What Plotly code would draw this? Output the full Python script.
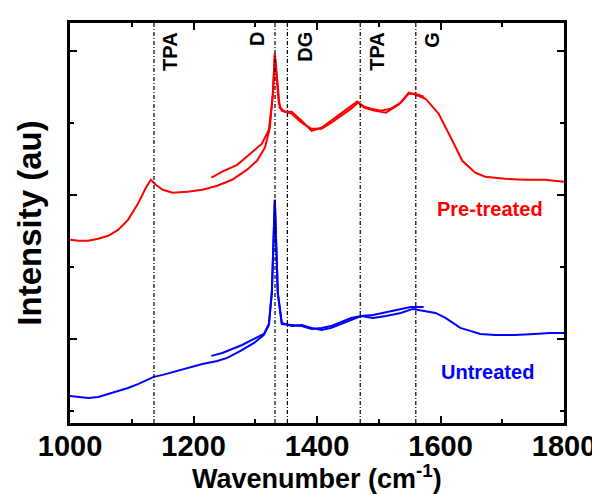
import plotly.graph_objects as go

# ---------------- data (wavenumber in cm^-1, intensity in arbitrary units) ----------------
pre_a_wn = [1000, 1013.7, 1029.7, 1045.8, 1061.8, 1077.9, 1093.9, 1110.0, 1122.9, 1130.9, 1138.9,
            1150.2, 1166.2, 1190.3, 1214.4, 1238.5, 1262.6, 1286.7, 1302.8, 1315.6, 1323.7, 1328.5,
            1331.7, 1334.9, 1338.1, 1343.0, 1359.0, 1375.1, 1391.2, 1407.2, 1423.3, 1439.3, 1455.4,
            1466.6, 1476.3, 1487.5, 1503.6, 1519.6, 1535.7, 1548.6, 1559.8, 1572.7]
pre_a_int = [1.688, 1.681, 1.681, 1.695, 1.716, 1.757, 1.827, 1.939, 2.050, 2.106, 2.071,
             2.036, 2.015, 2.022, 2.036, 2.064, 2.106, 2.176, 2.238, 2.329, 2.468, 2.712,
             2.970, 2.817, 2.643, 2.587, 2.566, 2.503, 2.461, 2.461, 2.503, 2.552, 2.601,
             2.643, 2.615, 2.601, 2.587, 2.601, 2.643, 2.705, 2.705, 2.684]

pre_b_wn = [1228.9, 1246.6, 1270.7, 1294.8, 1310.8, 1322.1, 1328.5, 1331.7, 1334.9, 1339.7,
            1347.8, 1359.0, 1375.1, 1391.2, 1407.2, 1423.3, 1439.3, 1455.4, 1465.0, 1476.3,
            1492.3, 1511.6, 1532.5, 1548.6, 1559.8, 1575.9, 1596.8, 1619.3, 1635.3, 1656.2,
            1672.3, 1704.4, 1736.5, 1768.7, 1800]
pre_b_int = [2.120, 2.162, 2.210, 2.301, 2.357, 2.455, 2.691, 2.984, 2.831, 2.608,
             2.580, 2.580, 2.517, 2.447, 2.468, 2.517, 2.566, 2.615, 2.650, 2.608,
             2.587, 2.573, 2.629, 2.712, 2.698, 2.670, 2.566, 2.378, 2.238, 2.155,
             2.127, 2.113, 2.106, 2.106, 2.092]

un_a_wn = [1000, 1013.7, 1029.7, 1045.8, 1061.8, 1077.9, 1093.9, 1110.0, 1126.1, 1135.7, 1150.2,
           1166.2, 1190.3, 1214.4, 1238.5, 1254.6, 1275.5, 1298.0, 1314.0, 1322.1, 1326.9, 1331.7,
           1336.5, 1343.0, 1359.0, 1375.1, 1391.2, 1407.2, 1423.3, 1439.3, 1455.4, 1471.4,
           1490.7, 1511.6, 1535.7, 1551.8, 1564.6, 1572.7]
un_a_int = [0.601, 0.594, 0.587, 0.594, 0.615, 0.636, 0.657, 0.684, 0.713, 0.734, 0.748,
            0.768, 0.796, 0.824, 0.845, 0.866, 0.914, 0.970, 1.026, 1.095, 1.332, 1.966,
            1.318, 1.109, 1.088, 1.095, 1.075, 1.061, 1.075, 1.102, 1.130, 1.158,
            1.165, 1.186, 1.207, 1.221, 1.221, 1.221]

un_b_wn = [1228.9, 1246.6, 1262.6, 1278.7, 1298.0, 1314.0, 1322.1, 1326.9, 1331.7, 1336.5,
           1343.0, 1359.0, 1375.1, 1391.2, 1407.2, 1423.3, 1439.3, 1455.4, 1471.4, 1490.7,
           1511.6, 1535.7, 1555.0, 1564.6, 1575.9, 1591.9, 1608.0, 1619.3, 1632.1, 1648.2,
           1664.3, 1688.4, 1720.5, 1752.6, 1776.7, 1800]
un_b_int = [0.880, 0.900, 0.928, 0.956, 0.998, 1.033, 1.102, 1.318, 1.966, 1.318,
            1.102, 1.095, 1.088, 1.068, 1.075, 1.088, 1.116, 1.144, 1.158, 1.144,
            1.158, 1.179, 1.207, 1.200, 1.193, 1.179, 1.144, 1.109, 1.075, 1.054,
            1.033, 1.026, 1.026, 1.033, 1.040, 1.040]

band_positions = [1136, 1332, 1352, 1470, 1560]
band_labels = ["TPA", "D", "DG", "TPA", "G"]
band_label_x = [1161, 1303, 1380, 1496, 1586]

x_ticks = [1000, 1200, 1400, 1600, 1800]
y_ticks = [1, 2, 3]

FONT = "Arial, Liberation Sans, sans-serif"
RED = "#ff0000"
BLUE = "#0000ff"

fig = go.Figure()
for wn, inten, col in [(pre_a_wn, pre_a_int, RED), (pre_b_wn, pre_b_int, RED),
                       (un_a_wn, un_a_int, BLUE), (un_b_wn, un_b_int, BLUE)]:
    fig.add_trace(go.Scatter(x=wn, y=inten, mode="lines",
                             line=dict(color=col, width=2), showlegend=False,
                             hoverinfo="skip"))

for xb in band_positions:
    fig.add_shape(type="line", x0=xb, x1=xb, y0=0, y1=1, xref="x", yref="paper",
                  line=dict(color="black", width=1.2, dash="4px,2px,1px,2px"))

for xl, lab in zip(band_label_x, band_labels):
    fig.add_annotation(x=xl, y=1.0, xref="x", yref="paper", yshift=-7,
                       text="<b>%s</b>" % lab, showarrow=False, textangle=-90,
                       xanchor="center", yanchor="top",
                       font=dict(family=FONT, size=20, color="black"))

fig.add_annotation(x=1680, y=1.90, xref="x", yref="y", text="<b>Pre-treated</b>",
                   showarrow=False, font=dict(family=FONT, size=20, color=RED))
fig.add_annotation(x=1676, y=0.77, xref="x", yref="y", text="<b>Untreated</b>",
                   showarrow=False, font=dict(family=FONT, size=20, color=BLUE))

# x-axis title placed as paper annotation so it sits fully inside the picture
fig.add_annotation(x=0.5, y=0, xref="paper", yref="paper", yanchor="bottom", yshift=-73,
                   text="<b>Wavenumber (cm<sup>-1</sup>)</b>", showarrow=False,
                   font=dict(family=FONT, size=27, color="black"))

fig.update_layout(
    width=600, height=494,
    margin=dict(l=62, r=41, t=15, b=79),
    paper_bgcolor="white", plot_bgcolor="white",
    font=dict(family=FONT, color="black"),
    xaxis=dict(range=[1000, 1800], tickvals=x_ticks,
               ticktext=["<b>%d</b>" % v for v in x_ticks],
               ticks="inside", ticklen=7, tickwidth=2, tickcolor="black",
               minor=dict(dtick=100, tick0=1000, ticks="inside", ticklen=4, tickwidth=2,
                          tickcolor="black"),
               showline=True, linewidth=2.5, linecolor="black", mirror="ticks",
               showgrid=False, zeroline=False, ticklabelstandoff=-5,
               tickfont=dict(family=FONT, size=29, color="black")),
    yaxis=dict(range=[0.413, 3.197], tickvals=y_ticks, showticklabels=False,
               ticks="inside", ticklen=7, tickwidth=2, tickcolor="black",
               minor=dict(dtick=1, tick0=0.5, ticks="inside", ticklen=4, tickwidth=2,
                          tickcolor="black"),
               showline=True, linewidth=2.5, linecolor="black", mirror="ticks",
               showgrid=False, zeroline=False,
               title=dict(text="<b>Intensity (au)</b>",
                          font=dict(family=FONT, size=33, color="black"), standoff=16)),
)

fig.write_html("out.html")
